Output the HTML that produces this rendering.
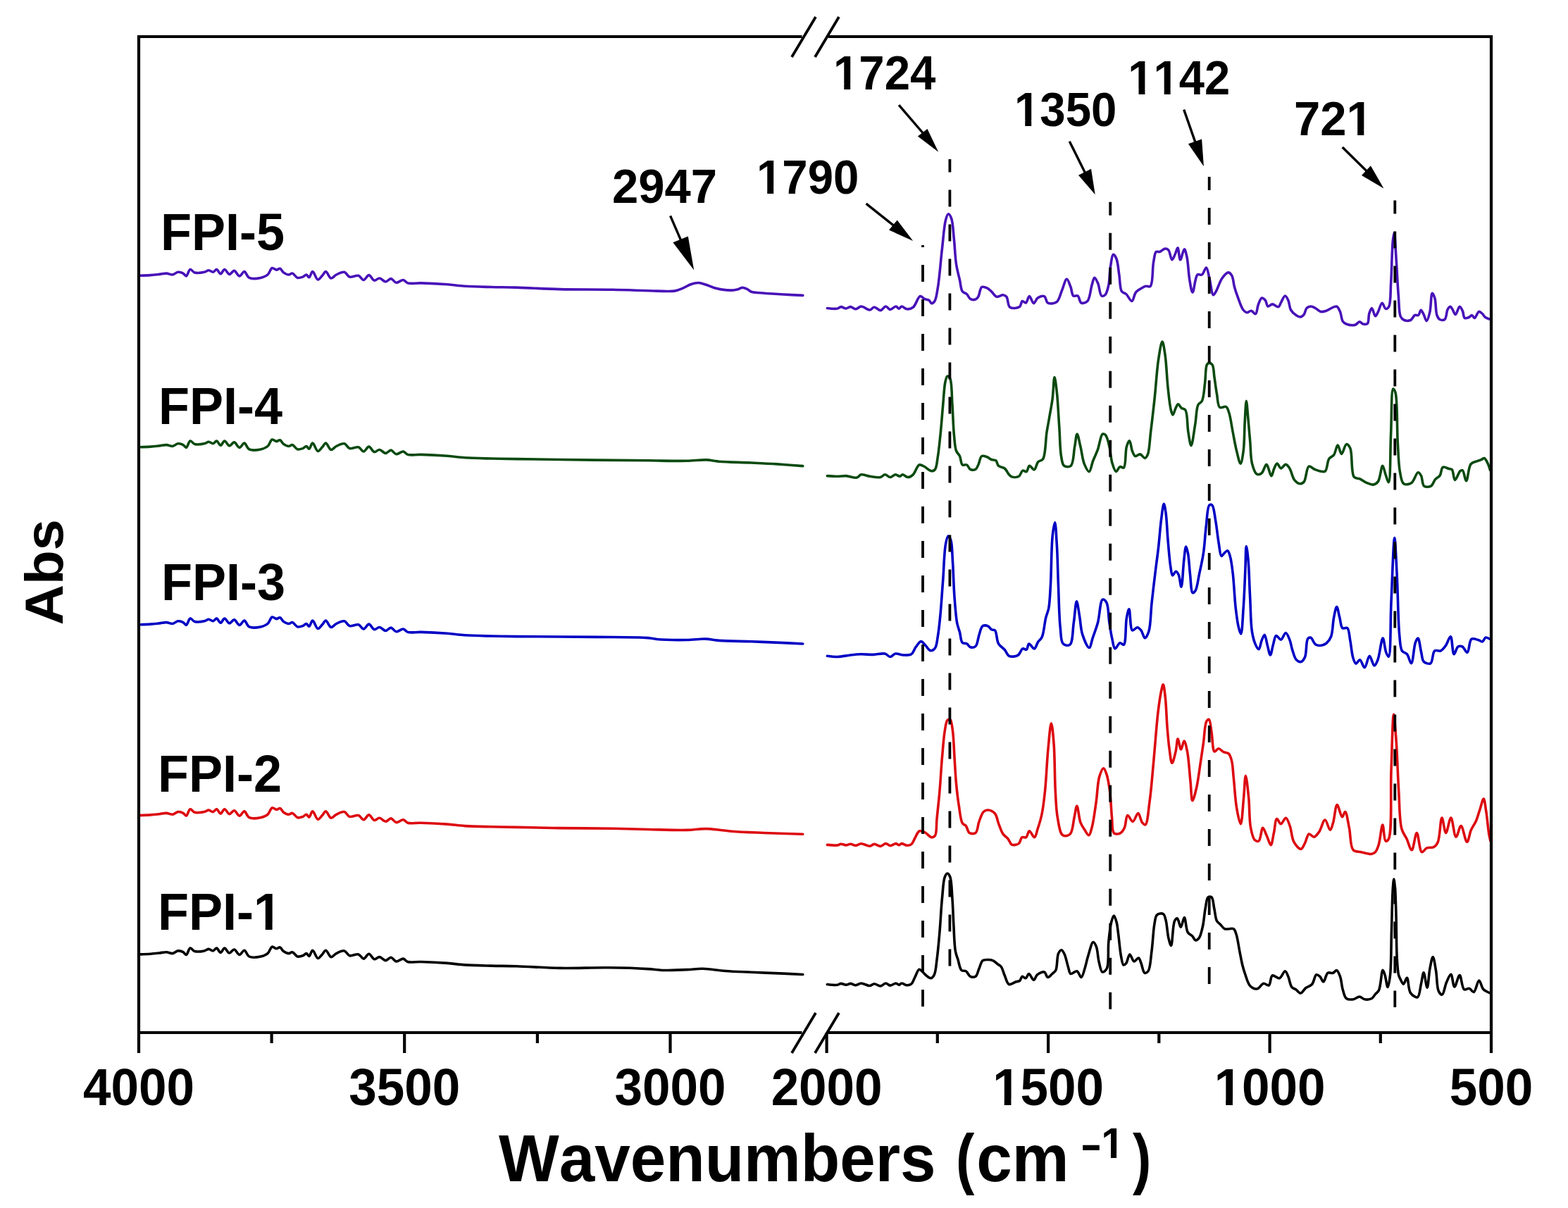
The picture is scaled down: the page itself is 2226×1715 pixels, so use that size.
<!DOCTYPE html><html><head><meta charset="utf-8"><title>FTIR spectra of FPI-1 to FPI-5</title><style>html,body{margin:0;padding:0;background:#fff;overflow:hidden;}svg{display:block;}text{font-family:"Liberation Sans", Arial, Helvetica, sans-serif;font-weight:bold;fill:#000;font-kerning:none;}</style></head><body>
<svg xmlns="http://www.w3.org/2000/svg" width="2226" height="1715" viewBox="0 0 2226 1715">
<rect width="2226" height="1715" fill="#fff"/>
<path d="M197.0 391.3 C197.0 391.3 197.9 391.3 198.8 391.3 C201.4 391.2 209.0 390.9 213.8 390.6 C218.2 390.3 222.4 389.8 226.3 389.4 C229.8 389.0 233.1 388.0 236.3 388.1 C239.3 388.2 242.3 390.3 245.0 390.0 C247.7 389.7 249.9 386.6 252.5 386.3 C255.0 386.0 257.9 387.0 260.0 388.1 C261.8 389.0 263.0 392.1 264.4 391.9 C266.4 391.6 267.8 383.0 270.0 382.5 C271.9 382.1 273.6 386.1 276.3 386.9 C279.9 387.9 286.4 387.1 290.0 386.3 C292.6 385.8 294.2 383.8 296.3 383.8 C298.4 383.8 300.6 386.6 302.5 386.3 C304.3 386.1 305.9 382.3 307.5 382.5 C309.4 382.7 311.2 388.8 313.1 388.8 C315.0 388.8 316.8 382.5 318.8 382.5 C320.9 382.5 323.2 389.2 325.6 389.4 C327.8 389.6 330.2 384.2 332.5 384.4 C335.0 384.6 337.5 391.8 340.0 391.9 C342.3 392.0 344.7 385.4 346.9 385.6 C349.3 385.8 350.5 392.8 353.8 394.4 C357.8 396.3 365.3 395.4 370.0 394.4 C373.8 393.6 377.3 392.3 380.0 390.0 C382.8 387.7 383.9 381.3 386.3 380.6 C388.2 380.0 390.5 383.1 392.5 383.1 C394.2 383.1 396.0 380.9 397.5 381.3 C399.3 381.8 400.5 385.5 402.5 386.9 C404.6 388.4 407.7 390.0 410.0 390.0 C411.8 390.0 413.3 387.8 415.0 388.1 C417.4 388.5 419.8 393.7 422.5 394.4 C424.9 395.0 427.8 393.9 430.0 393.1 C431.9 392.4 433.5 389.8 435.0 390.0 C436.4 390.2 437.5 394.0 438.8 393.8 C440.5 393.6 441.9 385.6 443.8 385.6 C446.0 385.6 448.7 396.6 451.3 396.9 C453.3 397.2 455.6 393.2 457.5 391.3 C459.3 389.5 460.7 385.6 462.5 385.6 C464.8 385.7 467.3 394.6 470.0 395.0 C472.3 395.4 474.6 391.4 477.5 390.0 C480.8 388.4 485.6 385.6 488.8 386.3 C491.8 386.9 493.2 392.2 496.3 393.1 C499.7 394.2 505.3 390.3 508.8 391.3 C511.8 392.2 513.8 397.6 516.3 397.5 C518.8 397.4 521.3 390.5 523.8 390.6 C526.3 390.7 528.6 397.6 531.3 398.1 C533.7 398.6 536.2 394.8 538.8 395.0 C541.6 395.2 544.7 400.0 547.5 400.0 C550.1 400.0 552.5 395.5 555.0 395.6 C557.6 395.8 559.7 400.9 562.5 401.3 C565.5 401.7 569.6 397.1 572.5 397.5 C574.9 397.8 576.0 401.0 578.8 401.9 C583.2 403.3 590.2 401.7 597.5 401.9 C607.8 402.2 623.8 403.0 635.0 403.8 C644.2 404.5 650.8 405.7 660.0 406.3 C671.2 407.0 685.2 407.2 697.5 407.5 C709.5 407.8 719.5 407.7 733.0 408.1 C750.8 408.6 773.3 410.1 795.0 410.6 C818.8 411.2 846.1 410.8 870.0 411.3 C891.8 411.7 916.4 412.9 932.5 413.1 C942.7 413.2 950.7 414.2 957.5 413.1 C962.5 412.3 966.1 410.4 970.0 408.8 C973.7 407.3 976.9 405.0 980.5 403.8 C984.1 402.6 987.8 401.4 991.5 401.5 C995.2 401.6 998.9 403.2 1002.5 404.3 C1006.2 405.5 1009.7 407.3 1013.5 408.4 C1017.4 409.5 1021.3 410.5 1025.4 411.1 C1029.8 411.8 1035.3 412.2 1039.1 412.1 C1041.9 412.0 1044.0 411.7 1046.4 411.1 C1048.9 410.5 1051.4 408.5 1053.8 408.4 C1056.0 408.3 1058.1 409.3 1060.2 410.2 C1062.4 411.2 1063.8 413.3 1066.6 414.3 C1071.0 415.8 1078.2 415.6 1084.9 416.2 C1093.1 416.9 1103.2 417.5 1112.4 418.0 C1121.5 418.5 1139.8 419.4 1139.8 419.4" fill="none" stroke="#4812b8" stroke-width="3.6" stroke-linejoin="round" stroke-linecap="round"/>
<path d="M1174.4 437.5 C1174.4 437.5 1185.3 438.8 1188.8 438.1 C1191.0 437.6 1192.0 435.7 1193.8 435.6 C1196.0 435.4 1198.7 438.0 1201.0 438.0 C1203.2 438.0 1205.3 435.5 1207.5 435.6 C1209.9 435.7 1212.5 438.9 1215.0 438.8 C1217.5 438.7 1219.7 435.1 1222.5 435.0 C1226.1 434.8 1231.7 440.3 1235.0 440.0 C1237.4 439.7 1238.8 436.1 1241.0 436.0 C1243.7 435.8 1247.2 440.8 1250.0 440.6 C1252.7 440.4 1255.1 435.0 1257.5 435.0 C1259.7 435.0 1261.5 439.3 1263.8 439.4 C1266.3 439.5 1269.6 434.9 1271.9 435.0 C1273.6 435.1 1274.9 438.2 1276.3 438.1 C1277.6 438.0 1278.5 435.2 1280.0 435.0 C1282.0 434.8 1284.8 438.5 1287.5 438.8 C1290.3 439.1 1293.6 438.3 1296.3 436.3 C1300.1 433.4 1303.0 421.4 1306.3 420.6 C1308.4 420.1 1310.4 423.4 1312.5 424.4 C1314.5 425.3 1317.1 425.2 1318.8 426.3 C1320.4 427.3 1321.1 430.4 1322.5 430.6 C1323.8 430.8 1325.7 429.3 1326.9 427.5 C1329.2 424.1 1329.9 416.8 1331.3 408.8 C1333.7 395.1 1335.5 369.7 1337.5 352.5 C1339.2 338.0 1340.2 320.9 1342.5 312.5 C1343.6 308.4 1344.9 303.9 1346.3 303.8 C1347.6 303.7 1349.4 307.0 1350.6 310.0 C1352.9 316.1 1353.3 329.6 1354.4 340.0 C1355.6 351.2 1355.9 364.7 1357.5 375.0 C1358.8 383.4 1360.9 390.6 1362.5 397.5 C1363.8 403.4 1363.9 410.5 1366.3 413.8 C1367.9 416.0 1370.7 415.8 1372.5 417.5 C1374.5 419.3 1375.3 423.2 1377.5 424.4 C1379.5 425.6 1383.0 425.7 1385.0 425.0 C1386.6 424.4 1387.6 423.1 1388.8 421.3 C1390.7 418.3 1391.1 409.1 1393.8 407.5 C1395.8 406.4 1399.0 407.8 1401.3 408.8 C1403.6 409.8 1405.4 411.9 1407.5 413.8 C1409.9 416.0 1412.2 420.6 1415.0 421.3 C1417.6 422.0 1421.3 418.6 1423.8 418.8 C1425.7 419.0 1427.4 419.7 1428.8 421.3 C1431.2 424.0 1430.5 434.0 1433.8 436.3 C1436.9 438.4 1444.6 437.6 1447.5 435.6 C1449.8 434.0 1449.6 428.1 1451.3 427.5 C1452.7 427.0 1454.8 430.5 1456.3 430.0 C1458.3 429.4 1459.5 420.7 1461.3 420.6 C1463.2 420.5 1465.4 430.5 1467.5 430.6 C1469.4 430.7 1470.6 424.8 1473.1 423.1 C1475.6 421.4 1480.1 419.6 1482.5 420.6 C1485.0 421.7 1484.8 428.5 1487.5 430.0 C1490.4 431.6 1496.8 431.1 1500.0 428.8 C1503.9 426.1 1505.1 417.9 1507.5 412.5 C1509.9 407.1 1512.1 396.4 1514.4 396.3 C1516.3 396.2 1518.4 403.6 1520.0 407.5 C1521.6 411.5 1521.5 418.3 1523.8 420.0 C1525.4 421.2 1528.3 418.9 1530.0 420.0 C1532.3 421.4 1532.5 428.9 1535.0 430.0 C1537.3 431.0 1541.5 429.8 1543.8 427.5 C1547.5 423.8 1548.1 411.1 1550.0 405.0 C1551.3 400.8 1552.2 394.6 1553.8 394.4 C1555.2 394.3 1557.3 399.2 1558.8 402.5 C1560.8 407.1 1561.2 418.5 1563.8 420.0 C1565.2 420.8 1567.4 420.1 1568.8 418.8 C1571.2 416.7 1572.6 410.4 1573.8 405.0 C1575.4 398.0 1575.0 387.7 1576.3 380.0 C1577.4 373.3 1578.6 361.7 1580.6 361.3 C1581.8 361.1 1583.8 364.6 1585.0 367.5 C1587.1 372.5 1587.6 382.4 1588.8 390.0 C1590.1 397.8 1589.6 409.5 1592.5 413.8 C1594.1 416.1 1596.7 415.7 1598.8 417.5 C1601.5 419.9 1604.6 427.8 1606.9 427.5 C1609.2 427.2 1609.9 418.2 1612.5 415.0 C1614.8 412.2 1618.7 410.3 1621.3 408.8 C1623.2 407.7 1624.4 406.7 1626.3 406.3 C1628.3 405.8 1631.3 407.9 1633.1 406.3 C1637.1 402.8 1635.8 381.5 1637.5 372.5 C1638.7 366.5 1639.0 359.3 1641.3 357.5 C1642.6 356.5 1644.5 358.0 1646.3 357.5 C1648.6 356.9 1651.5 353.3 1653.8 353.1 C1655.6 352.9 1657.4 353.6 1658.8 355.0 C1661.1 357.4 1662.0 368.6 1663.8 368.8 C1665.2 368.9 1666.8 364.0 1668.1 361.3 C1669.5 358.4 1670.8 351.8 1671.9 351.9 C1673.4 352.0 1674.0 368.7 1675.6 368.8 C1677.2 368.9 1679.6 353.8 1681.3 353.8 C1682.7 353.8 1683.9 360.2 1685.0 365.0 C1686.8 372.9 1687.2 388.4 1688.8 397.5 C1690.0 404.3 1691.4 415.0 1693.1 415.0 C1695.1 415.0 1696.4 392.8 1700.0 390.0 C1701.8 388.6 1704.4 391.0 1706.3 390.0 C1708.8 388.6 1710.8 379.8 1712.5 380.0 C1714.5 380.3 1715.4 389.4 1716.9 395.0 C1718.7 402.0 1720.2 418.3 1722.5 418.8 C1723.7 419.0 1724.9 416.1 1726.3 413.8 C1728.8 409.6 1731.6 399.7 1735.0 395.0 C1737.6 391.4 1741.3 386.9 1743.8 386.9 C1745.7 386.9 1747.5 389.1 1748.8 391.3 C1750.9 394.8 1751.0 402.2 1752.5 407.5 C1753.9 412.6 1755.5 417.3 1757.5 422.5 C1759.6 428.2 1762.2 436.5 1765.0 440.0 C1766.6 442.0 1768.2 443.5 1770.0 443.8 C1771.9 444.1 1774.3 441.1 1776.3 441.3 C1778.4 441.5 1780.9 446.2 1782.5 445.6 C1784.6 444.8 1784.7 436.4 1786.3 432.5 C1787.7 429.0 1789.3 423.6 1791.3 423.1 C1792.8 422.7 1794.9 424.7 1796.3 426.3 C1798.0 428.3 1798.1 434.3 1800.0 435.0 C1801.6 435.6 1804.0 432.0 1806.3 431.9 C1809.0 431.8 1812.9 436.3 1815.0 435.6 C1816.9 434.9 1817.4 431.2 1818.8 428.8 C1820.5 426.0 1822.6 420.0 1824.4 420.0 C1825.9 420.0 1827.6 423.7 1828.8 426.3 C1830.5 429.9 1830.4 436.3 1832.5 440.0 C1834.3 443.2 1837.4 445.8 1840.0 447.5 C1842.1 448.9 1844.4 450.2 1846.3 450.0 C1848.1 449.8 1849.9 448.0 1851.3 446.3 C1853.0 444.1 1853.1 439.4 1855.0 437.5 C1856.6 435.9 1859.2 435.0 1861.3 435.0 C1863.4 435.0 1865.4 436.4 1867.5 437.5 C1869.9 438.8 1872.4 441.9 1875.0 442.5 C1877.4 443.0 1880.3 442.0 1882.5 441.3 C1884.4 440.7 1885.5 439.7 1887.5 438.8 C1890.2 437.6 1895.0 434.2 1897.5 435.0 C1899.8 435.7 1901.1 439.5 1902.5 442.5 C1904.2 446.3 1904.3 453.3 1906.3 456.3 C1907.6 458.2 1909.1 459.2 1911.3 460.0 C1914.4 461.2 1920.5 462.2 1923.8 461.3 C1926.4 460.6 1928.0 457.0 1930.0 456.9 C1931.7 456.8 1933.2 459.6 1935.0 460.0 C1936.9 460.4 1939.8 460.8 1941.3 459.4 C1943.6 457.3 1942.5 448.9 1943.8 445.0 C1944.8 442.0 1946.2 437.5 1947.5 437.5 C1949.1 437.5 1950.8 448.7 1952.5 448.8 C1953.7 448.9 1954.8 445.7 1956.1 443.4 C1958.0 440.0 1960.1 430.4 1962.1 430.3 C1963.8 430.2 1965.3 438.0 1967.2 438.4 C1968.6 438.7 1970.5 437.4 1971.7 435.4 C1974.7 430.3 1973.8 414.0 1974.7 401.0 C1975.8 384.1 1976.0 354.6 1977.3 342.4 C1977.9 336.8 1978.7 330.3 1979.3 330.3 C1980.4 330.4 1981.3 356.5 1982.3 370.7 C1983.4 386.6 1984.2 406.8 1985.4 421.2 C1986.3 432.0 1985.8 444.1 1988.4 449.5 C1989.7 452.2 1991.3 453.6 1993.4 454.5 C1995.8 455.5 2000.0 455.6 2002.5 454.5 C2005.1 453.3 2006.4 448.5 2008.6 447.5 C2010.2 446.8 2012.2 448.3 2013.6 447.5 C2015.3 446.5 2015.9 440.5 2017.2 440.4 C2018.3 440.3 2019.5 443.5 2020.7 445.5 C2022.3 448.2 2023.8 455.7 2025.3 455.6 C2026.9 455.5 2028.6 448.4 2029.8 443.4 C2031.6 436.2 2031.4 416.5 2033.3 416.2 C2034.3 416.0 2035.9 420.0 2036.9 423.2 C2038.6 428.8 2038.0 442.3 2039.9 447.5 C2041.0 450.3 2042.0 452.5 2043.9 453.5 C2045.7 454.5 2049.2 454.8 2051.0 453.5 C2053.6 451.6 2053.3 442.5 2055.1 439.4 C2056.2 437.5 2057.9 435.3 2059.1 435.4 C2060.2 435.5 2061.1 437.8 2062.1 439.4 C2063.4 441.4 2064.7 446.5 2066.2 446.5 C2068.0 446.5 2070.3 435.5 2072.2 435.4 C2073.6 435.3 2075.2 439.0 2076.3 441.4 C2077.7 444.2 2077.4 450.3 2079.3 451.5 C2080.8 452.4 2083.7 451.2 2085.4 450.5 C2087.0 449.8 2088.1 447.4 2089.4 447.5 C2090.8 447.6 2092.0 451.6 2093.4 451.5 C2095.3 451.3 2097.3 442.9 2099.5 442.4 C2101.1 442.1 2103.0 444.2 2104.5 445.5 C2106.1 446.9 2106.9 449.2 2108.6 450.5 C2110.5 451.9 2115.7 453.5 2115.7 453.5" fill="none" stroke="#4812b8" stroke-width="3.6" stroke-linejoin="round" stroke-linecap="round"/>
<path d="M197.0 634.8 C197.0 634.8 197.9 634.8 198.8 634.8 C201.4 634.7 209.0 634.4 213.8 634.1 C218.2 633.8 222.4 633.3 226.3 632.9 C229.8 632.5 233.1 631.5 236.3 631.6 C239.3 631.7 242.3 633.8 245.0 633.5 C247.7 633.2 249.9 630.1 252.5 629.8 C255.0 629.5 257.9 630.5 260.0 631.6 C261.8 632.5 263.0 635.6 264.4 635.4 C266.4 635.1 267.8 626.5 270.0 626.0 C271.9 625.6 273.6 629.6 276.3 630.4 C279.9 631.4 286.4 630.6 290.0 629.8 C292.6 629.3 294.2 627.3 296.3 627.3 C298.4 627.3 300.6 630.1 302.5 629.8 C304.3 629.6 305.9 625.8 307.5 626.0 C309.4 626.2 311.2 632.3 313.1 632.3 C315.0 632.3 316.8 626.0 318.8 626.0 C320.9 626.0 323.2 632.7 325.6 632.9 C327.8 633.1 330.2 627.7 332.5 627.9 C335.0 628.1 337.5 635.3 340.0 635.4 C342.3 635.5 344.7 628.9 346.9 629.1 C349.3 629.3 350.5 636.3 353.8 637.9 C357.8 639.8 365.3 638.9 370.0 637.9 C373.8 637.1 377.3 635.8 380.0 633.5 C382.8 631.2 383.9 624.8 386.3 624.1 C388.2 623.5 390.5 626.6 392.5 626.6 C394.2 626.6 396.0 624.4 397.5 624.8 C399.3 625.3 400.5 629.0 402.5 630.4 C404.6 631.9 407.7 633.5 410.0 633.5 C411.8 633.5 413.3 631.3 415.0 631.6 C417.4 632.0 419.8 637.2 422.5 637.9 C424.9 638.5 427.8 637.4 430.0 636.6 C431.9 635.9 433.5 633.3 435.0 633.5 C436.4 633.7 437.5 637.5 438.8 637.3 C440.5 637.1 441.9 629.1 443.8 629.1 C446.0 629.1 448.7 640.1 451.3 640.4 C453.3 640.7 455.6 636.7 457.5 634.8 C459.3 633.0 460.7 629.1 462.5 629.1 C464.8 629.2 467.3 638.1 470.0 638.5 C472.3 638.9 474.6 634.9 477.5 633.5 C480.8 631.9 485.6 629.1 488.8 629.8 C491.8 630.4 493.2 635.7 496.3 636.6 C499.7 637.7 505.3 633.8 508.8 634.8 C511.8 635.7 513.8 641.1 516.3 641.0 C518.8 640.9 521.3 634.0 523.8 634.1 C526.3 634.2 528.6 641.1 531.3 641.6 C533.7 642.1 536.2 638.3 538.8 638.5 C541.6 638.7 544.7 643.5 547.5 643.5 C550.1 643.5 552.5 639.0 555.0 639.1 C557.6 639.3 559.7 644.4 562.5 644.8 C565.5 645.2 569.6 640.6 572.5 641.0 C574.9 641.3 576.0 644.5 578.8 645.4 C583.2 646.8 590.2 645.2 597.5 645.4 C607.8 645.7 623.8 646.5 635.0 647.3 C644.2 648.0 650.8 649.2 660.0 649.8 C671.2 650.5 685.2 650.7 697.5 651.0 C709.5 651.3 717.9 651.4 733.0 651.6 C759.9 652.0 811.4 652.7 845.0 653.1 C872.5 653.4 896.9 653.6 920.0 653.8 C939.8 654.0 959.8 654.6 975.0 654.3 C985.7 654.1 994.3 652.6 1002.5 652.9 C1009.2 653.1 1013.3 654.6 1020.8 655.2 C1032.6 656.2 1052.2 656.3 1066.6 657.0 C1079.5 657.6 1091.0 658.1 1103.2 658.9 C1115.4 659.7 1139.8 661.6 1139.8 661.6" fill="none" stroke="#0a4a10" stroke-width="3.6" stroke-linejoin="round" stroke-linecap="round"/>
<path d="M1174.4 675.6 C1174.4 675.6 1184.2 676.3 1188.8 676.3 C1193.1 676.3 1197.0 675.4 1201.3 675.6 C1206.1 675.9 1212.5 678.9 1216.3 678.1 C1219.0 677.5 1219.9 674.3 1222.5 673.8 C1225.8 673.1 1230.6 675.7 1235.0 676.3 C1239.8 677.0 1246.2 678.4 1250.0 677.5 C1252.7 676.9 1254.1 673.9 1256.3 673.8 C1258.7 673.7 1261.3 677.5 1263.8 677.5 C1266.3 677.5 1268.9 673.9 1271.3 673.8 C1273.4 673.7 1275.7 676.5 1277.5 676.3 C1279.0 676.2 1279.8 673.9 1281.3 673.8 C1283.3 673.7 1286.3 677.5 1288.8 677.5 C1291.3 677.5 1294.0 675.9 1296.3 673.8 C1299.5 670.9 1301.7 661.2 1305.0 660.0 C1307.3 659.2 1310.3 661.4 1312.5 662.5 C1314.4 663.5 1315.8 665.2 1317.5 666.3 C1319.1 667.3 1320.8 668.8 1322.5 668.8 C1324.2 668.8 1326.2 668.0 1327.5 666.3 C1329.9 663.3 1330.2 655.5 1331.3 648.8 C1332.8 639.9 1333.8 628.8 1335.0 617.5 C1336.4 604.2 1337.6 587.2 1338.8 573.8 C1339.9 562.5 1340.3 549.6 1341.9 542.5 C1342.8 538.7 1343.6 534.3 1345.0 534.0 C1346.1 533.7 1347.8 535.4 1348.8 537.5 C1351.5 543.1 1351.0 561.1 1351.9 573.8 C1352.9 587.7 1353.2 605.3 1354.4 617.5 C1355.3 626.3 1355.5 634.7 1357.5 640.0 C1358.8 643.4 1361.1 644.6 1362.5 647.5 C1364.2 651.0 1364.0 658.3 1366.3 660.0 C1367.9 661.2 1370.7 659.1 1372.5 660.0 C1374.5 661.0 1375.4 665.3 1377.5 666.3 C1379.6 667.3 1383.1 667.4 1385.0 666.3 C1386.9 665.2 1387.5 662.5 1388.8 660.0 C1390.5 656.6 1391.2 649.0 1393.8 647.5 C1395.8 646.4 1399.0 647.9 1401.3 648.8 C1403.5 649.6 1405.4 651.7 1407.5 652.5 C1409.5 653.3 1412.2 652.5 1413.8 653.8 C1415.7 655.2 1415.5 659.5 1417.5 661.3 C1419.6 663.3 1423.8 663.0 1426.3 665.0 C1428.9 667.1 1430.5 671.7 1432.5 673.8 C1433.8 675.2 1434.6 676.3 1436.3 676.9 C1438.8 677.7 1443.8 677.8 1446.4 676.3 C1449.0 674.8 1449.7 668.9 1451.9 668.1 C1453.5 667.5 1455.8 670.2 1457.3 669.5 C1459.2 668.6 1459.5 661.7 1461.4 661.3 C1463.2 660.9 1466.4 667.2 1468.3 666.8 C1470.6 666.3 1471.3 658.4 1473.7 655.8 C1475.6 653.7 1478.8 654.5 1480.6 651.7 C1484.6 645.7 1484.2 624.6 1486.0 613.5 C1487.4 604.8 1488.8 598.1 1490.1 590.3 C1491.5 582.2 1493.1 574.3 1494.2 565.7 C1495.4 556.2 1495.9 535.6 1497.0 535.6 C1498.0 535.6 1499.4 548.7 1500.4 557.5 C1501.9 570.6 1502.7 591.0 1503.8 606.6 C1504.8 620.9 1504.7 637.7 1506.5 647.6 C1507.6 653.5 1507.8 659.2 1510.6 661.3 C1512.9 663.0 1517.8 663.3 1520.2 661.3 C1524.3 657.9 1524.1 642.1 1525.7 634.0 C1527.0 627.4 1527.7 616.3 1529.1 616.2 C1530.5 616.1 1532.3 627.6 1533.9 634.0 C1535.7 641.5 1536.7 652.2 1539.3 658.6 C1541.2 663.2 1544.2 669.7 1546.2 669.5 C1548.4 669.3 1549.6 659.6 1551.6 654.5 C1553.7 649.1 1556.3 644.0 1558.5 638.1 C1560.9 631.4 1562.4 617.7 1565.3 616.2 C1566.6 615.6 1568.2 616.4 1569.4 617.6 C1571.8 620.0 1573.4 628.0 1574.9 634.0 C1576.7 641.0 1576.9 650.8 1578.9 657.2 C1580.4 662.1 1582.3 669.2 1584.4 669.5 C1586.1 669.7 1587.8 663.4 1589.9 662.7 C1591.5 662.1 1593.9 665.0 1595.3 664.0 C1598.7 661.7 1597.3 640.8 1599.4 634.0 C1600.5 630.3 1602.3 625.7 1603.5 625.8 C1605.1 626.0 1605.9 636.9 1607.6 640.8 C1608.8 643.6 1609.8 647.0 1611.7 647.6 C1613.5 648.2 1616.4 644.6 1618.6 644.9 C1621.0 645.3 1623.5 650.6 1625.4 650.4 C1627.1 650.2 1628.4 647.7 1629.5 644.9 C1631.9 638.9 1632.2 625.1 1633.6 613.5 C1635.4 599.2 1637.3 582.2 1639.1 565.7 C1641.0 548.1 1642.2 525.8 1644.5 511.0 C1646.1 500.7 1648.3 485.0 1650.0 485.0 C1651.5 485.0 1652.9 496.3 1654.1 504.2 C1655.9 516.5 1656.6 537.9 1658.2 552.0 C1659.4 563.2 1660.6 575.6 1662.3 582.0 C1663.1 585.2 1664.0 588.9 1665.0 588.9 C1666.2 588.9 1667.7 582.0 1669.1 579.3 C1670.2 577.2 1671.2 574.0 1672.5 573.9 C1673.9 573.8 1675.5 577.9 1677.3 579.3 C1679.0 580.6 1681.3 580.0 1682.8 582.0 C1686.1 586.6 1685.3 604.3 1686.9 613.5 C1688.1 620.7 1689.6 632.6 1691.0 632.6 C1692.8 632.6 1695.1 611.9 1696.8 602.0 C1698.4 592.7 1698.2 580.1 1700.9 574.7 C1702.3 571.9 1705.0 572.1 1706.4 569.3 C1709.0 564.3 1709.4 553.1 1710.5 544.7 C1711.7 536.0 1711.2 521.8 1713.3 517.8 C1714.1 516.3 1715.1 515.5 1716.2 515.4 C1717.6 515.2 1719.8 516.1 1721.0 517.8 C1723.3 520.9 1723.0 529.3 1724.0 535.7 C1725.2 543.0 1726.1 552.0 1727.5 559.4 C1728.7 566.1 1728.5 576.1 1731.7 578.4 C1733.9 580.0 1738.4 576.3 1740.6 577.5 C1742.8 578.7 1743.5 582.1 1744.7 585.7 C1746.9 592.0 1748.3 603.9 1750.1 613.0 C1751.9 622.1 1753.5 632.2 1755.6 640.3 C1757.3 646.9 1759.5 658.2 1761.1 658.1 C1762.7 658.0 1764.2 647.5 1765.2 640.3 C1766.7 629.5 1766.5 611.9 1767.2 599.3 C1767.8 588.5 1768.5 569.3 1769.3 569.3 C1770.1 569.3 1771.1 586.1 1772.0 595.2 C1772.9 605.2 1773.8 616.1 1774.7 626.6 C1775.6 637.1 1775.3 649.7 1777.5 658.1 C1779.1 664.2 1781.3 671.6 1784.3 673.1 C1786.3 674.1 1789.1 673.2 1791.1 671.7 C1793.9 669.6 1795.8 659.3 1798.0 659.4 C1800.4 659.5 1802.9 675.8 1804.8 675.8 C1806.4 675.8 1807.4 668.0 1808.9 664.9 C1810.2 662.3 1811.4 658.2 1813.0 658.1 C1814.6 658.0 1816.5 664.7 1818.5 664.9 C1820.5 665.1 1823.2 659.3 1825.3 659.4 C1827.3 659.5 1829.1 662.4 1830.8 664.9 C1833.4 668.7 1834.5 677.6 1837.6 681.3 C1839.9 684.1 1843.3 686.7 1845.8 686.8 C1847.8 686.9 1849.6 685.9 1851.2 684.0 C1854.3 680.3 1854.6 663.7 1858.1 662.2 C1860.3 661.3 1863.5 665.2 1866.3 666.3 C1869.0 667.4 1871.9 668.6 1874.5 669.0 C1876.8 669.4 1879.5 670.4 1881.3 669.0 C1884.3 666.8 1884.1 655.2 1886.8 651.2 C1888.7 648.5 1891.7 648.3 1893.6 645.8 C1896.1 642.5 1897.2 632.1 1899.1 632.1 C1900.9 632.1 1902.5 644.3 1904.5 644.4 C1906.6 644.5 1909.0 631.1 1911.4 630.7 C1913.1 630.4 1915.3 633.1 1916.8 636.2 C1920.3 643.3 1917.6 671.6 1922.3 677.2 C1924.4 679.8 1927.7 678.7 1930.5 679.9 C1933.6 681.3 1936.8 684.0 1940.1 685.4 C1943.2 686.7 1946.8 688.5 1949.6 688.1 C1952.2 687.7 1954.5 686.2 1956.4 683.6 C1959.6 679.2 1960.8 661.2 1962.8 661.2 C1964.3 661.2 1965.6 669.9 1967.1 674.0 C1968.5 677.7 1970.3 684.9 1971.4 684.7 C1974.2 684.2 1973.5 638.7 1974.6 616.3 C1975.7 594.6 1974.9 552.8 1977.8 552.1 C1978.7 551.9 1980.1 554.5 1981.0 557.4 C1984.0 567.3 1983.0 606.6 1984.2 627.0 C1985.2 643.0 1985.3 658.8 1987.4 669.7 C1988.8 676.8 1989.4 684.6 1992.8 686.8 C1995.4 688.5 2000.4 687.7 2003.5 685.8 C2007.5 683.4 2010.4 671.1 2013.1 670.8 C2014.7 670.6 2016.2 673.0 2017.4 675.1 C2019.4 678.4 2018.8 687.9 2021.7 690.1 C2024.0 691.8 2028.7 691.5 2031.3 690.1 C2034.2 688.6 2035.4 683.0 2037.7 680.4 C2039.7 678.2 2042.4 677.5 2044.1 675.1 C2046.2 672.1 2045.9 664.6 2048.4 663.3 C2050.5 662.2 2054.6 664.9 2057.0 665.5 C2058.6 665.9 2060.0 665.4 2061.2 666.5 C2063.4 668.6 2063.5 681.2 2065.5 681.5 C2067.5 681.7 2070.7 670.6 2073.0 668.7 C2074.1 667.8 2075.2 667.1 2076.2 667.6 C2078.4 668.6 2079.8 682.7 2081.6 682.6 C2083.8 682.5 2084.4 663.4 2088.0 659.0 C2090.3 656.3 2093.8 655.9 2096.5 654.8 C2098.8 653.9 2101.0 653.4 2102.9 652.6 C2104.5 651.9 2105.8 650.1 2107.2 650.5 C2109.2 651.1 2111.2 656.1 2112.6 659.0 C2113.9 661.8 2115.5 667.6 2115.5 667.6" fill="none" stroke="#0a4a10" stroke-width="3.6" stroke-linejoin="round" stroke-linecap="round"/>
<path d="M197.0 886.8 C197.0 886.8 197.9 886.8 198.8 886.8 C201.4 886.7 209.0 886.4 213.8 886.1 C218.2 885.8 222.4 885.3 226.3 884.9 C229.8 884.5 233.1 883.5 236.3 883.6 C239.3 883.7 242.3 885.8 245.0 885.5 C247.7 885.2 249.9 882.1 252.5 881.8 C255.0 881.5 257.9 882.5 260.0 883.6 C261.8 884.5 263.0 887.6 264.4 887.4 C266.4 887.1 267.8 878.5 270.0 878.0 C271.9 877.6 273.6 881.6 276.3 882.4 C279.9 883.4 286.4 882.6 290.0 881.8 C292.6 881.3 294.2 879.3 296.3 879.3 C298.4 879.3 300.6 882.1 302.5 881.8 C304.3 881.6 305.9 877.8 307.5 878.0 C309.4 878.2 311.2 884.3 313.1 884.3 C315.0 884.3 316.8 878.0 318.8 878.0 C320.9 878.0 323.2 884.7 325.6 884.9 C327.8 885.1 330.2 879.7 332.5 879.9 C335.0 880.1 337.5 887.3 340.0 887.4 C342.3 887.5 344.7 880.9 346.9 881.1 C349.3 881.3 350.5 888.3 353.8 889.9 C357.8 891.8 365.3 890.9 370.0 889.9 C373.8 889.1 377.3 887.8 380.0 885.5 C382.8 883.2 383.9 876.8 386.3 876.1 C388.2 875.5 390.5 878.6 392.5 878.6 C394.2 878.6 396.0 876.4 397.5 876.8 C399.3 877.3 400.5 881.0 402.5 882.4 C404.6 883.9 407.7 885.5 410.0 885.5 C411.8 885.5 413.3 883.3 415.0 883.6 C417.4 884.0 419.8 889.2 422.5 889.9 C424.9 890.5 427.8 889.4 430.0 888.6 C431.9 887.9 433.5 885.3 435.0 885.5 C436.4 885.7 437.5 889.5 438.8 889.3 C440.5 889.1 441.9 881.1 443.8 881.1 C446.0 881.1 448.7 892.1 451.3 892.4 C453.3 892.7 455.6 888.7 457.5 886.8 C459.3 885.0 460.7 881.1 462.5 881.1 C464.8 881.2 467.3 890.1 470.0 890.5 C472.3 890.9 474.6 886.9 477.5 885.5 C480.8 883.9 485.6 881.1 488.8 881.8 C491.8 882.4 493.2 887.7 496.3 888.6 C499.7 889.7 505.3 885.8 508.8 886.8 C511.8 887.7 513.8 893.1 516.3 893.0 C518.8 892.9 521.3 886.0 523.8 886.1 C526.3 886.2 528.6 893.1 531.3 893.6 C533.7 894.1 536.2 890.3 538.8 890.5 C541.6 890.7 544.7 895.5 547.5 895.5 C550.1 895.5 552.5 891.0 555.0 891.1 C557.6 891.3 559.7 896.4 562.5 896.8 C565.5 897.2 569.6 892.6 572.5 893.0 C574.9 893.3 576.0 896.5 578.8 897.4 C583.2 898.8 590.2 897.2 597.5 897.4 C607.8 897.7 623.8 898.5 635.0 899.3 C644.2 900.0 650.8 901.2 660.0 901.8 C671.2 902.5 685.2 902.7 697.5 903.0 C709.5 903.3 717.9 903.4 733.0 903.6 C759.9 903.9 811.4 904.0 845.0 904.4 C872.5 904.7 905.5 904.4 920.0 905.6 C925.9 906.1 927.1 907.0 932.5 907.5 C942.4 908.4 962.4 908.7 975.0 908.5 C985.0 908.4 993.8 906.8 1002.0 907.1 C1008.8 907.3 1013.1 908.8 1020.8 909.4 C1032.7 910.3 1051.3 910.3 1066.6 910.8 C1081.9 911.3 1099.1 912.0 1112.4 912.6 C1122.7 913.1 1139.8 914.0 1139.8 914.0" fill="none" stroke="#0000c4" stroke-width="3.6" stroke-linejoin="round" stroke-linecap="round"/>
<path d="M1174.4 931.3 C1174.4 931.3 1183.7 932.6 1188.8 932.5 C1194.6 932.4 1201.6 930.6 1207.5 930.0 C1212.8 929.4 1217.3 928.9 1222.5 928.8 C1228.1 928.7 1234.3 929.5 1240.0 929.4 C1245.5 929.3 1252.0 927.1 1256.3 928.1 C1259.4 928.8 1261.3 932.5 1263.8 932.5 C1266.3 932.5 1268.4 928.6 1271.3 928.1 C1274.6 927.5 1278.8 929.9 1282.5 930.0 C1286.3 930.1 1290.9 930.6 1293.8 928.8 C1296.8 926.9 1297.7 921.9 1300.0 918.8 C1302.3 915.8 1305.1 910.7 1307.5 910.6 C1309.6 910.5 1311.6 914.2 1313.8 916.3 C1316.2 918.6 1318.8 923.5 1321.3 923.8 C1323.4 924.0 1325.9 922.2 1327.5 920.0 C1329.9 916.7 1330.2 910.1 1331.3 903.8 C1332.8 895.1 1333.9 884.2 1335.0 872.5 C1336.4 857.8 1337.5 839.2 1338.8 822.5 C1340.0 805.8 1340.4 783.2 1342.5 772.5 C1343.5 767.2 1344.9 761.1 1346.3 761.0 C1347.4 760.9 1349.0 764.4 1350.0 767.5 C1351.9 773.7 1351.7 786.2 1352.5 797.5 C1353.5 812.0 1353.8 832.0 1355.0 847.5 C1356.0 860.9 1357.0 875.9 1358.8 885.0 C1359.9 890.3 1361.3 893.1 1362.5 897.5 C1363.8 902.3 1363.8 910.1 1366.3 912.5 C1367.9 914.0 1370.7 912.8 1372.5 913.8 C1374.4 914.8 1375.5 918.2 1377.5 918.8 C1379.6 919.5 1383.1 919.2 1385.0 917.5 C1387.9 914.9 1388.2 906.3 1390.0 901.3 C1391.6 896.8 1392.4 890.6 1395.0 888.8 C1397.0 887.5 1400.4 887.9 1402.5 888.8 C1404.5 889.6 1405.7 892.8 1407.5 893.8 C1409.1 894.7 1411.1 893.6 1412.5 895.0 C1415.2 897.6 1414.7 909.0 1417.5 913.8 C1419.7 917.6 1423.7 919.5 1426.3 922.5 C1428.7 925.3 1429.6 929.9 1432.5 931.3 C1435.7 932.8 1441.7 932.2 1445.0 930.4 C1448.2 928.6 1449.4 921.8 1451.9 920.9 C1453.6 920.3 1455.9 922.9 1457.3 922.2 C1459.1 921.3 1459.0 914.4 1460.7 914.0 C1462.6 913.6 1466.2 921.2 1468.3 920.9 C1470.5 920.5 1471.8 914.2 1473.7 911.3 C1475.4 908.8 1477.7 907.8 1479.2 904.5 C1482.0 898.6 1482.8 884.6 1484.7 877.1 C1486.0 871.7 1487.7 869.1 1488.8 863.5 C1490.4 854.7 1490.7 842.7 1491.5 829.3 C1492.6 810.4 1492.5 776.7 1494.2 761.0 C1495.1 752.6 1496.6 741.9 1497.6 741.9 C1498.8 742.0 1499.6 762.4 1500.4 774.7 C1501.4 790.6 1501.6 810.6 1502.4 829.3 C1503.2 849.2 1503.5 875.2 1505.2 890.8 C1506.3 900.4 1505.7 910.5 1509.3 914.0 C1511.6 916.2 1516.4 917.1 1518.8 915.4 C1523.2 912.2 1522.7 894.4 1524.3 884.0 C1525.9 873.9 1526.9 853.9 1528.4 853.9 C1529.7 853.9 1531.2 867.1 1532.5 874.4 C1534.0 882.5 1534.1 892.6 1536.6 900.4 C1538.9 907.5 1543.6 919.7 1546.2 919.5 C1548.4 919.4 1549.7 909.9 1551.6 904.5 C1553.8 898.2 1556.4 891.7 1558.5 884.0 C1561.1 874.4 1561.8 852.5 1565.3 851.2 C1566.9 850.6 1569.3 852.9 1570.8 855.3 C1573.8 860.3 1573.5 875.0 1574.9 884.0 C1576.2 892.2 1577.3 900.5 1578.9 907.2 C1580.1 912.4 1580.9 920.5 1583.0 920.9 C1584.8 921.3 1587.5 913.2 1589.9 912.7 C1591.7 912.3 1593.9 916.2 1595.3 915.4 C1598.9 913.4 1597.6 886.3 1599.4 877.1 C1600.4 871.8 1601.8 864.7 1602.9 864.8 C1604.6 864.9 1604.1 893.3 1607.6 894.9 C1609.4 895.7 1612.4 890.7 1614.5 890.8 C1616.5 890.9 1618.3 893.0 1619.9 894.9 C1622.1 897.5 1623.5 905.7 1625.4 905.8 C1627.2 905.9 1629.5 900.8 1630.9 896.3 C1633.7 887.8 1633.5 870.1 1635.0 856.6 C1636.5 842.7 1638.2 827.9 1639.9 814.1 C1641.5 801.0 1643.3 788.7 1644.7 776.0 C1646.1 763.3 1647.0 749.0 1648.5 738.0 C1649.6 729.4 1651.1 715.2 1652.3 715.2 C1653.2 715.2 1654.3 722.9 1655.1 728.5 C1656.4 737.9 1656.9 753.8 1658.0 766.5 C1659.1 779.2 1660.3 795.4 1661.8 804.6 C1662.7 809.9 1663.0 816.5 1664.6 816.9 C1665.8 817.2 1667.9 811.2 1669.4 811.2 C1670.8 811.2 1672.1 813.7 1673.2 816.0 C1675.0 819.8 1675.9 833.2 1677.0 833.1 C1678.6 833.0 1679.5 805.6 1680.8 795.1 C1681.7 787.6 1682.5 776.1 1683.7 776.0 C1684.5 775.9 1685.7 781.5 1686.5 785.6 C1687.9 792.5 1688.3 804.7 1689.4 814.1 C1690.5 823.4 1690.7 840.5 1693.2 841.6 C1694.2 842.0 1695.9 840.5 1697.0 838.8 C1699.6 834.8 1700.9 822.6 1702.7 814.1 C1704.7 805.0 1706.9 795.8 1708.4 785.6 C1710.2 773.9 1710.7 759.5 1712.2 747.5 C1713.6 736.8 1713.8 719.7 1716.9 717.1 C1718.0 716.2 1719.6 716.2 1720.7 717.1 C1723.3 719.2 1724.1 730.2 1725.5 738.0 C1727.3 747.8 1728.6 761.9 1730.2 771.3 C1731.4 778.3 1732.0 788.8 1734.0 789.4 C1735.1 789.7 1736.4 786.8 1737.8 785.6 C1739.3 784.3 1741.3 781.4 1742.6 781.7 C1744.3 782.1 1745.3 786.6 1746.4 790.3 C1748.1 796.2 1749.1 804.7 1750.2 814.1 C1751.8 827.5 1752.6 849.1 1754.2 863.0 C1755.4 873.4 1756.6 883.6 1758.3 890.3 C1759.3 894.4 1760.7 900.0 1761.7 899.9 C1763.5 899.7 1764.2 876.5 1765.2 863.0 C1766.4 846.6 1767.2 824.2 1767.9 808.3 C1768.5 796.0 1768.4 775.5 1769.3 775.5 C1770.0 775.5 1771.2 786.6 1772.0 794.7 C1773.3 808.2 1773.7 831.7 1774.7 849.3 C1775.6 865.8 1775.4 884.8 1777.5 897.1 C1778.8 905.0 1780.8 912.0 1782.9 916.3 C1784.1 918.8 1785.8 921.9 1787.0 921.7 C1788.7 921.4 1789.6 913.0 1791.1 909.4 C1792.4 906.3 1794.0 901.1 1795.2 901.2 C1796.8 901.4 1797.9 911.4 1799.3 916.3 C1800.6 921.0 1802.1 929.9 1803.4 929.9 C1804.8 929.9 1806.1 919.6 1807.5 914.9 C1808.8 910.6 1809.5 903.2 1811.6 902.6 C1813.4 902.1 1816.4 908.4 1818.5 908.1 C1821.0 907.7 1823.2 898.4 1825.3 898.5 C1827.3 898.6 1829.3 904.4 1830.8 908.1 C1832.6 912.4 1833.2 918.3 1834.8 923.1 C1836.4 927.8 1837.7 934.2 1840.3 936.8 C1842.2 938.7 1845.1 940.0 1847.1 939.5 C1849.3 938.9 1851.1 936.0 1852.6 932.7 C1855.1 927.0 1853.9 910.0 1856.7 906.7 C1857.8 905.4 1859.4 904.9 1860.8 905.3 C1863.1 906.0 1864.8 913.1 1867.6 914.9 C1870.0 916.4 1873.2 916.6 1875.8 916.3 C1878.2 916.0 1880.6 915.1 1882.7 913.5 C1885.3 911.4 1887.8 908.3 1889.5 904.0 C1892.2 897.4 1892.0 884.3 1893.6 876.6 C1894.8 870.8 1896.3 861.6 1897.7 861.6 C1899.1 861.6 1900.4 871.6 1901.8 876.6 C1903.2 881.6 1903.3 889.7 1905.9 891.7 C1907.6 893.0 1911.0 890.3 1912.7 891.7 C1915.5 893.9 1915.5 903.0 1916.8 909.4 C1918.3 916.9 1919.0 928.1 1920.9 934.0 C1922.1 937.6 1923.3 941.9 1925.0 942.2 C1926.6 942.5 1928.7 936.6 1930.5 936.8 C1932.8 937.1 1935.2 947.9 1937.3 947.7 C1939.8 947.5 1941.8 931.4 1944.2 931.3 C1946.4 931.2 1948.8 944.9 1951.0 945.0 C1952.7 945.1 1954.4 940.7 1955.9 937.0 C1958.7 930.2 1961.0 906.1 1963.1 906.1 C1964.8 906.1 1965.9 921.6 1967.8 926.3 C1968.9 929.0 1970.4 932.6 1971.4 932.3 C1974.7 931.5 1973.7 881.8 1975.0 855.0 C1976.4 825.8 1978.2 763.6 1979.7 763.6 C1980.9 763.6 1982.2 798.9 1983.3 819.4 C1984.6 844.4 1984.8 884.0 1986.8 902.6 C1987.8 912.1 1987.6 919.7 1990.4 924.0 C1992.1 926.7 1995.5 926.4 1997.5 928.7 C2000.1 931.8 2001.8 942.0 2003.5 941.8 C2006.0 941.5 2007.1 918.1 2009.4 912.1 C2010.5 909.2 2011.9 905.9 2013.0 906.1 C2014.9 906.4 2016.2 920.3 2017.7 926.3 C2018.9 931.2 2018.7 936.9 2021.3 939.4 C2023.5 941.5 2028.4 943.1 2030.8 941.8 C2034.2 940.0 2033.4 926.4 2036.7 924.0 C2038.9 922.4 2042.5 925.0 2045.0 924.0 C2047.7 922.9 2050.0 919.7 2052.2 916.8 C2054.9 913.3 2057.4 903.5 2059.3 903.8 C2061.7 904.2 2061.8 928.3 2064.1 928.7 C2065.7 929.0 2067.5 919.5 2070.0 918.0 C2071.7 917.0 2074.0 917.1 2075.9 918.0 C2078.5 919.2 2081.1 926.7 2083.1 926.3 C2085.8 925.7 2085.5 909.6 2089.0 907.3 C2091.4 905.7 2095.7 907.8 2098.5 908.5 C2100.8 909.1 2102.8 911.4 2104.5 910.9 C2106.4 910.4 2107.3 905.5 2109.2 905.0 C2110.9 904.5 2115.1 907.3 2115.1 907.3" fill="none" stroke="#0000c4" stroke-width="3.6" stroke-linejoin="round" stroke-linecap="round"/>
<path d="M197.0 1157.6 C197.0 1157.6 197.9 1157.6 198.8 1157.6 C201.4 1157.5 209.0 1157.2 213.8 1156.9 C218.2 1156.6 222.4 1156.1 226.3 1155.7 C229.8 1155.3 233.1 1154.3 236.3 1154.4 C239.3 1154.5 242.3 1156.6 245.0 1156.3 C247.7 1156.0 249.9 1152.9 252.5 1152.6 C255.0 1152.3 257.9 1153.3 260.0 1154.4 C261.8 1155.3 263.0 1158.4 264.4 1158.2 C266.4 1157.9 267.8 1149.3 270.0 1148.8 C271.9 1148.4 273.6 1152.4 276.3 1153.2 C279.9 1154.2 286.4 1153.4 290.0 1152.6 C292.6 1152.1 294.2 1150.1 296.3 1150.1 C298.4 1150.1 300.6 1152.9 302.5 1152.6 C304.3 1152.4 305.9 1148.6 307.5 1148.8 C309.4 1149.0 311.2 1155.1 313.1 1155.1 C315.0 1155.1 316.8 1148.8 318.8 1148.8 C320.9 1148.8 323.2 1155.5 325.6 1155.7 C327.8 1155.9 330.2 1150.5 332.5 1150.7 C335.0 1150.9 337.5 1158.1 340.0 1158.2 C342.3 1158.3 344.7 1151.7 346.9 1151.9 C349.3 1152.1 350.5 1159.1 353.8 1160.7 C357.8 1162.6 365.3 1161.7 370.0 1160.7 C373.8 1159.9 377.3 1158.6 380.0 1156.3 C382.8 1154.0 383.9 1147.6 386.3 1146.9 C388.2 1146.3 390.5 1149.4 392.5 1149.4 C394.2 1149.4 396.0 1147.2 397.5 1147.6 C399.3 1148.1 400.5 1151.8 402.5 1153.2 C404.6 1154.7 407.7 1156.3 410.0 1156.3 C411.8 1156.3 413.3 1154.1 415.0 1154.4 C417.4 1154.8 419.8 1160.0 422.5 1160.7 C424.9 1161.3 427.8 1160.2 430.0 1159.4 C431.9 1158.7 433.5 1156.1 435.0 1156.3 C436.4 1156.5 437.5 1160.3 438.8 1160.1 C440.5 1159.9 441.9 1151.9 443.8 1151.9 C446.0 1151.9 448.7 1162.9 451.3 1163.2 C453.3 1163.5 455.6 1159.5 457.5 1157.6 C459.3 1155.8 460.7 1151.9 462.5 1151.9 C464.8 1152.0 467.3 1160.9 470.0 1161.3 C472.3 1161.7 474.6 1157.7 477.5 1156.3 C480.8 1154.7 485.6 1151.9 488.8 1152.6 C491.8 1153.2 493.2 1158.5 496.3 1159.4 C499.7 1160.5 505.3 1156.6 508.8 1157.6 C511.8 1158.5 513.8 1163.9 516.3 1163.8 C518.8 1163.7 521.3 1156.8 523.8 1156.9 C526.3 1157.0 528.6 1163.9 531.3 1164.4 C533.7 1164.9 536.2 1161.1 538.8 1161.3 C541.6 1161.5 544.7 1166.3 547.5 1166.3 C550.1 1166.3 552.5 1161.8 555.0 1161.9 C557.6 1162.1 559.7 1167.2 562.5 1167.6 C565.5 1168.0 569.6 1163.4 572.5 1163.8 C574.9 1164.1 576.0 1167.3 578.8 1168.2 C583.2 1169.6 590.2 1168.0 597.5 1168.2 C607.8 1168.5 623.8 1169.3 635.0 1170.1 C644.2 1170.8 650.8 1172.0 660.0 1172.6 C671.2 1173.3 685.2 1173.5 697.5 1173.8 C709.5 1174.1 719.5 1174.2 733.0 1174.4 C750.8 1174.7 773.3 1175.3 795.0 1175.6 C818.8 1175.9 847.5 1175.9 870.0 1176.3 C888.4 1176.6 902.9 1177.2 920.0 1177.5 C937.9 1177.9 959.9 1178.8 975.0 1178.4 C985.6 1178.1 992.3 1176.5 1002.0 1176.6 C1013.4 1176.8 1026.0 1179.2 1039.0 1180.2 C1053.5 1181.3 1068.9 1181.8 1084.9 1182.5 C1102.4 1183.2 1139.8 1184.3 1139.8 1184.3" fill="none" stroke="#dc0a10" stroke-width="3.6" stroke-linejoin="round" stroke-linecap="round"/>
<path d="M1174.4 1199.4 C1174.4 1199.4 1185.3 1200.5 1188.8 1200.0 C1190.9 1199.7 1192.0 1198.3 1193.8 1198.2 C1196.0 1198.1 1198.7 1199.9 1201.0 1199.9 C1203.2 1199.9 1205.3 1198.2 1207.5 1198.2 C1209.9 1198.2 1212.5 1200.5 1215.0 1200.4 C1217.5 1200.3 1219.7 1197.9 1222.5 1197.8 C1226.1 1197.7 1231.6 1201.5 1235.0 1201.2 C1237.4 1201.0 1238.8 1198.5 1241.0 1198.4 C1243.7 1198.2 1247.2 1201.6 1250.0 1201.4 C1252.7 1201.2 1255.1 1197.6 1257.5 1197.6 C1259.7 1197.6 1261.5 1200.5 1263.8 1200.6 C1266.3 1200.7 1269.6 1197.5 1271.9 1197.6 C1273.6 1197.7 1274.9 1199.9 1276.3 1199.8 C1277.6 1199.8 1278.5 1197.8 1280.0 1197.6 C1282.0 1197.4 1285.1 1200.1 1287.5 1200.2 C1289.7 1200.3 1292.0 1199.9 1293.8 1198.6 C1296.0 1197.0 1297.0 1193.0 1298.8 1190.0 C1300.7 1186.8 1302.4 1181.2 1305.0 1180.0 C1307.1 1179.0 1310.0 1180.2 1312.5 1181.3 C1315.8 1182.7 1319.7 1188.5 1322.5 1188.8 C1324.4 1189.0 1326.2 1188.1 1327.5 1186.3 C1330.1 1182.6 1329.1 1171.3 1330.0 1162.5 C1331.1 1151.4 1332.6 1138.4 1333.8 1125.0 C1335.2 1109.5 1336.1 1090.5 1337.5 1075.0 C1338.7 1061.6 1339.6 1047.1 1341.3 1037.5 C1342.4 1031.3 1342.9 1024.7 1345.0 1022.5 C1346.1 1021.4 1347.8 1020.7 1348.8 1021.3 C1350.9 1022.5 1351.5 1030.9 1352.5 1037.5 C1353.9 1047.4 1354.2 1062.5 1355.0 1075.0 C1355.8 1087.5 1356.4 1100.6 1357.5 1112.5 C1358.5 1123.4 1359.7 1134.0 1361.3 1143.8 C1362.7 1152.6 1363.5 1164.4 1366.3 1168.8 C1367.7 1171.0 1369.8 1170.7 1371.3 1172.5 C1373.3 1174.9 1373.8 1180.9 1376.3 1182.5 C1378.5 1183.9 1382.8 1184.1 1385.0 1182.5 C1388.1 1180.2 1388.0 1171.4 1390.0 1166.3 C1391.8 1161.5 1393.6 1155.1 1396.3 1152.5 C1398.1 1150.8 1400.2 1149.9 1402.5 1150.0 C1405.5 1150.1 1410.0 1152.2 1412.5 1155.0 C1415.3 1158.2 1415.7 1164.1 1417.5 1168.8 C1419.4 1173.7 1421.1 1179.9 1423.8 1183.8 C1425.9 1187.0 1429.2 1188.7 1431.3 1191.3 C1433.3 1193.8 1433.9 1198.0 1436.3 1199.1 C1438.8 1200.2 1443.9 1199.3 1446.3 1197.6 C1448.7 1195.9 1448.7 1190.0 1450.8 1188.7 C1452.4 1187.7 1455.1 1189.7 1456.7 1188.7 C1458.8 1187.4 1459.3 1180.0 1461.2 1179.8 C1463.2 1179.6 1466.6 1189.0 1468.6 1188.7 C1470.7 1188.4 1471.6 1181.4 1473.1 1176.8 C1475.1 1170.9 1477.4 1163.8 1479.0 1156.0 C1481.0 1146.4 1482.2 1135.9 1483.5 1123.4 C1485.3 1106.6 1486.2 1081.5 1487.9 1064.0 C1489.3 1050.1 1491.0 1026.8 1492.4 1026.8 C1493.7 1026.8 1495.2 1044.6 1496.1 1056.5 C1497.5 1074.3 1497.2 1104.4 1498.3 1123.4 C1499.1 1137.6 1499.3 1149.4 1501.3 1160.5 C1503.0 1169.8 1504.4 1183.0 1508.7 1185.8 C1511.4 1187.6 1516.5 1186.7 1519.1 1184.3 C1523.1 1180.7 1523.4 1167.7 1525.1 1160.5 C1526.5 1154.6 1527.5 1144.2 1528.8 1144.2 C1530.4 1144.2 1531.6 1161.7 1534.0 1167.9 C1535.7 1172.2 1537.8 1175.2 1539.9 1178.3 C1541.8 1181.1 1544.1 1186.1 1545.8 1185.8 C1547.7 1185.5 1548.9 1179.0 1550.3 1173.9 C1552.6 1165.3 1554.5 1150.1 1556.2 1138.2 C1557.9 1126.3 1558.1 1111.1 1560.7 1102.6 C1562.3 1097.4 1564.8 1090.7 1566.6 1090.7 C1568.2 1090.7 1569.8 1095.8 1571.1 1099.6 C1573.1 1105.5 1574.4 1114.6 1575.6 1123.4 C1577.1 1134.4 1577.4 1149.7 1578.5 1160.5 C1579.4 1168.9 1578.2 1179.9 1581.5 1182.8 C1583.6 1184.6 1588.0 1184.0 1590.4 1182.8 C1592.9 1181.6 1594.7 1178.6 1596.3 1175.4 C1598.5 1170.9 1598.4 1158.0 1600.8 1157.5 C1602.7 1157.1 1605.8 1166.6 1608.2 1166.4 C1610.8 1166.2 1613.5 1154.4 1615.7 1154.6 C1618.0 1154.8 1619.3 1165.2 1621.6 1167.9 C1623.0 1169.5 1624.7 1171.4 1626.0 1170.9 C1629.2 1169.6 1630.2 1150.8 1632.0 1138.2 C1634.4 1121.4 1636.0 1099.2 1637.9 1078.8 C1639.9 1057.2 1641.8 1029.8 1643.9 1012.0 C1645.3 1000.1 1646.7 989.6 1648.3 982.3 C1649.3 977.9 1650.4 971.8 1651.3 971.9 C1652.5 972.0 1653.4 982.4 1654.3 989.7 C1655.6 1001.2 1656.1 1020.9 1657.2 1034.3 C1658.1 1045.2 1658.9 1055.2 1660.2 1064.0 C1661.2 1071.1 1662.3 1083.2 1663.9 1083.3 C1665.4 1083.4 1667.7 1072.5 1669.1 1066.9 C1670.5 1061.1 1670.8 1049.2 1672.1 1049.1 C1673.3 1049.0 1675.0 1064.0 1676.6 1064.0 C1678.0 1064.0 1679.6 1052.1 1681.0 1052.1 C1682.6 1052.1 1684.2 1060.6 1685.5 1066.9 C1687.6 1077.2 1688.6 1096.0 1689.9 1108.5 C1691.0 1118.8 1691.2 1136.5 1692.9 1136.7 C1694.3 1136.8 1696.9 1125.6 1698.6 1118.4 C1700.9 1108.5 1702.6 1093.9 1704.3 1082.7 C1705.8 1072.7 1707.1 1063.8 1708.5 1054.2 C1709.9 1044.3 1710.2 1028.7 1712.8 1024.2 C1713.8 1022.4 1715.4 1021.0 1716.4 1021.4 C1718.4 1022.2 1718.8 1033.1 1720.0 1039.9 C1721.4 1048.1 1721.3 1065.8 1724.2 1067.0 C1725.7 1067.6 1727.9 1062.7 1729.9 1062.7 C1732.1 1062.7 1734.6 1066.5 1737.1 1067.7 C1739.4 1068.8 1742.4 1068.3 1744.2 1069.9 C1746.4 1071.9 1747.4 1075.7 1748.5 1079.9 C1750.2 1086.1 1750.3 1094.9 1751.3 1104.1 C1752.6 1116.3 1753.5 1134.9 1755.6 1146.9 C1757.1 1155.8 1759.7 1169.8 1761.3 1169.7 C1763.3 1169.6 1764.4 1144.4 1765.6 1132.6 C1766.7 1121.7 1767.2 1101.3 1768.4 1101.3 C1769.6 1101.3 1771.5 1121.3 1772.7 1132.6 C1774.0 1145.7 1773.4 1164.5 1775.6 1175.4 C1777.0 1182.5 1778.5 1189.9 1781.3 1192.5 C1782.9 1194.0 1785.4 1194.9 1787.0 1194.0 C1789.9 1192.4 1790.6 1175.6 1792.7 1175.4 C1794.4 1175.3 1796.5 1182.9 1798.4 1186.8 C1800.4 1190.9 1802.5 1199.8 1804.1 1199.7 C1805.9 1199.5 1807.0 1188.5 1808.4 1182.6 C1809.9 1176.2 1810.4 1163.1 1812.7 1162.6 C1814.2 1162.2 1816.4 1169.7 1818.4 1169.7 C1820.6 1169.7 1823.4 1161.0 1825.5 1161.2 C1827.7 1161.5 1829.5 1168.0 1831.2 1172.6 C1833.5 1178.8 1833.7 1189.7 1836.9 1195.4 C1839.4 1199.9 1844.2 1205.7 1846.9 1205.4 C1849.2 1205.2 1850.8 1200.0 1852.6 1196.8 C1854.7 1193.0 1855.7 1184.8 1858.3 1184.0 C1860.3 1183.4 1863.1 1188.6 1865.4 1188.3 C1867.9 1188.0 1870.3 1184.2 1872.6 1181.1 C1875.7 1176.8 1878.4 1164.0 1881.1 1164.0 C1883.6 1164.0 1886.3 1178.4 1888.3 1178.3 C1890.0 1178.2 1891.2 1172.5 1892.5 1168.3 C1894.6 1161.8 1895.8 1142.8 1898.2 1142.6 C1900.2 1142.4 1903.2 1159.5 1905.4 1159.7 C1906.9 1159.8 1908.4 1152.4 1909.7 1152.6 C1911.9 1152.9 1913.6 1167.2 1915.4 1175.4 C1917.5 1185.0 1916.5 1201.9 1921.1 1206.8 C1923.9 1209.8 1928.5 1208.8 1932.5 1209.7 C1937.0 1210.7 1943.1 1213.0 1946.7 1212.5 C1949.1 1212.2 1950.8 1211.3 1952.4 1209.7 C1954.5 1207.6 1955.7 1204.0 1957.1 1199.7 C1959.4 1192.7 1961.1 1171.1 1962.8 1171.1 C1964.4 1171.1 1964.6 1192.9 1967.1 1194.0 C1968.3 1194.5 1970.2 1193.3 1971.4 1191.1 C1976.7 1181.6 1973.8 1124.9 1975.0 1094.1 C1976.1 1066.2 1977.0 1014.2 1978.5 1014.2 C1979.5 1014.2 1981.0 1036.9 1982.1 1051.3 C1983.6 1071.2 1984.3 1100.5 1985.7 1122.6 C1986.9 1141.9 1986.5 1164.8 1989.9 1176.8 C1991.7 1183.3 1994.8 1186.2 1997.1 1191.1 C1999.5 1196.2 2002.0 1207.0 2004.2 1206.8 C2006.8 1206.6 2009.0 1182.5 2011.3 1182.5 C2013.7 1182.5 2015.0 1208.4 2018.5 1209.6 C2020.5 1210.3 2022.8 1205.1 2025.6 1203.9 C2028.5 1202.6 2033.0 1204.0 2035.6 1202.5 C2038.1 1201.1 2039.7 1198.9 2041.3 1195.4 C2044.4 1188.5 2044.8 1161.2 2047.0 1161.1 C2048.7 1161.0 2050.6 1182.4 2052.7 1182.5 C2054.8 1182.6 2057.5 1161.0 2059.8 1161.1 C2062.3 1161.2 2064.2 1188.0 2067.0 1188.2 C2069.2 1188.4 2071.7 1172.5 2074.1 1172.6 C2076.9 1172.7 2080.1 1195.4 2082.6 1195.4 C2084.8 1195.4 2086.1 1183.5 2088.4 1178.3 C2090.5 1173.6 2093.4 1170.1 2095.5 1165.4 C2097.8 1160.2 2099.3 1153.7 2101.2 1148.3 C2102.9 1143.3 2104.8 1133.9 2106.2 1134.0 C2107.7 1134.1 2108.6 1144.5 2109.7 1151.2 C2111.3 1160.6 2112.6 1177.8 2114.0 1185.4 C2114.7 1189.2 2116.0 1194.0 2116.0 1194.0" fill="none" stroke="#dc0a10" stroke-width="3.6" stroke-linejoin="round" stroke-linecap="round"/>
<path d="M197.0 1354.9 C197.0 1354.9 197.9 1354.9 198.8 1354.9 C201.4 1354.8 209.0 1354.5 213.8 1354.2 C218.2 1353.9 222.4 1353.4 226.3 1353.0 C229.8 1352.6 233.1 1351.6 236.3 1351.7 C239.3 1351.8 242.3 1353.9 245.0 1353.6 C247.7 1353.3 249.9 1350.2 252.5 1349.9 C255.0 1349.6 257.9 1350.6 260.0 1351.7 C261.8 1352.6 263.0 1355.7 264.4 1355.5 C266.4 1355.2 267.8 1346.6 270.0 1346.1 C271.9 1345.7 273.6 1349.7 276.3 1350.5 C279.9 1351.5 286.4 1350.7 290.0 1349.9 C292.6 1349.4 294.2 1347.4 296.3 1347.4 C298.4 1347.4 300.6 1350.2 302.5 1349.9 C304.3 1349.7 305.9 1345.9 307.5 1346.1 C309.4 1346.3 311.2 1352.4 313.1 1352.4 C315.0 1352.4 316.8 1346.1 318.8 1346.1 C320.9 1346.1 323.2 1352.8 325.6 1353.0 C327.8 1353.2 330.2 1347.8 332.5 1348.0 C335.0 1348.2 337.5 1355.4 340.0 1355.5 C342.3 1355.6 344.7 1349.0 346.9 1349.2 C349.3 1349.4 350.5 1356.4 353.8 1358.0 C357.8 1359.9 365.3 1359.0 370.0 1358.0 C373.8 1357.2 377.3 1355.9 380.0 1353.6 C382.8 1351.3 383.9 1344.9 386.3 1344.2 C388.2 1343.6 390.5 1346.7 392.5 1346.7 C394.2 1346.7 396.0 1344.5 397.5 1344.9 C399.3 1345.4 400.5 1349.1 402.5 1350.5 C404.6 1352.0 407.7 1353.6 410.0 1353.6 C411.8 1353.6 413.3 1351.4 415.0 1351.7 C417.4 1352.1 419.8 1357.3 422.5 1358.0 C424.9 1358.6 427.8 1357.5 430.0 1356.7 C431.9 1356.0 433.5 1353.4 435.0 1353.6 C436.4 1353.8 437.5 1357.6 438.8 1357.4 C440.5 1357.2 441.9 1349.2 443.8 1349.2 C446.0 1349.2 448.7 1360.2 451.3 1360.5 C453.3 1360.8 455.6 1356.8 457.5 1354.9 C459.3 1353.1 460.7 1349.2 462.5 1349.2 C464.8 1349.3 467.3 1358.2 470.0 1358.6 C472.3 1359.0 474.6 1355.0 477.5 1353.6 C480.8 1352.0 485.6 1349.2 488.8 1349.9 C491.8 1350.5 493.2 1355.8 496.3 1356.7 C499.7 1357.8 505.3 1353.9 508.8 1354.9 C511.8 1355.8 513.8 1361.2 516.3 1361.1 C518.8 1361.0 521.3 1354.1 523.8 1354.2 C526.3 1354.3 528.6 1361.2 531.3 1361.7 C533.7 1362.2 536.2 1358.4 538.8 1358.6 C541.6 1358.8 544.7 1363.6 547.5 1363.6 C550.1 1363.6 552.5 1359.1 555.0 1359.2 C557.6 1359.4 559.7 1364.5 562.5 1364.9 C565.5 1365.3 569.6 1360.7 572.5 1361.1 C574.9 1361.4 576.0 1364.6 578.8 1365.5 C583.2 1366.9 590.2 1365.3 597.5 1365.5 C607.8 1365.8 623.8 1366.6 635.0 1367.4 C644.2 1368.1 650.8 1369.3 660.0 1369.9 C671.2 1370.6 685.2 1370.8 697.5 1371.1 C709.5 1371.4 719.5 1371.3 733.0 1371.7 C750.8 1372.2 773.8 1374.0 795.0 1374.4 C817.3 1374.8 842.0 1373.5 863.8 1373.8 C883.5 1374.0 906.0 1374.7 920.0 1375.6 C928.4 1376.1 932.4 1377.2 940.0 1377.5 C950.0 1377.8 964.6 1377.0 975.0 1376.6 C983.5 1376.3 989.7 1375.1 998.0 1375.3 C1007.8 1375.5 1019.0 1377.7 1030.0 1378.5 C1041.8 1379.4 1053.7 1379.7 1066.6 1380.3 C1081.0 1380.9 1099.1 1381.5 1112.4 1382.1 C1122.7 1382.6 1139.8 1383.5 1139.8 1383.5" fill="none" stroke="#000000" stroke-width="3.6" stroke-linejoin="round" stroke-linecap="round"/>
<path d="M1174.4 1397.5 C1174.4 1397.5 1185.3 1398.8 1188.8 1398.3 C1190.9 1398.0 1192.0 1396.5 1193.8 1396.4 C1196.0 1396.3 1198.7 1398.2 1201.0 1398.2 C1203.2 1398.2 1205.3 1396.4 1207.5 1396.4 C1209.9 1396.4 1212.5 1398.8 1215.0 1398.7 C1217.5 1398.6 1219.7 1396.1 1222.5 1396.0 C1226.1 1395.9 1231.6 1399.8 1235.0 1399.5 C1237.4 1399.3 1238.8 1396.8 1241.0 1396.7 C1243.7 1396.6 1247.2 1400.1 1250.0 1399.9 C1252.7 1399.7 1255.1 1396.0 1257.5 1396.0 C1259.7 1396.0 1261.5 1399.0 1263.8 1399.1 C1266.3 1399.2 1269.6 1395.9 1271.9 1396.0 C1273.6 1396.1 1274.9 1398.3 1276.3 1398.2 C1277.6 1398.2 1278.5 1396.1 1280.0 1396.0 C1282.0 1395.8 1285.1 1398.6 1287.5 1398.7 C1289.7 1398.8 1292.0 1398.3 1293.8 1396.9 C1296.0 1395.1 1297.0 1390.8 1298.8 1387.5 C1300.7 1383.9 1302.7 1376.8 1305.0 1376.3 C1306.6 1376.0 1308.4 1378.6 1310.0 1380.0 C1311.7 1381.5 1313.1 1383.5 1315.0 1385.0 C1316.9 1386.5 1319.4 1389.0 1321.3 1388.8 C1323.2 1388.6 1325.0 1386.3 1326.3 1383.8 C1328.6 1379.4 1328.9 1370.6 1330.0 1362.5 C1331.5 1351.8 1332.6 1338.4 1333.8 1325.0 C1335.2 1309.5 1336.0 1289.5 1337.5 1275.0 C1338.6 1263.7 1339.0 1250.6 1341.3 1245.0 C1342.3 1242.4 1343.8 1240.0 1345.0 1240.0 C1346.3 1240.0 1347.8 1242.4 1348.8 1245.0 C1351.0 1250.6 1351.1 1264.4 1351.9 1275.0 C1352.8 1286.8 1353.1 1300.0 1353.8 1312.5 C1354.5 1325.0 1354.7 1340.9 1356.3 1350.0 C1357.3 1355.4 1358.6 1358.2 1360.0 1362.5 C1361.5 1367.3 1362.3 1375.1 1365.0 1377.5 C1366.7 1379.0 1369.4 1377.6 1371.3 1378.8 C1373.7 1380.2 1375.0 1385.1 1377.5 1386.3 C1379.7 1387.3 1383.0 1387.6 1385.0 1386.3 C1387.5 1384.7 1388.3 1378.8 1390.0 1375.0 C1391.7 1371.3 1392.5 1365.8 1395.0 1363.8 C1397.0 1362.3 1400.0 1362.5 1402.5 1362.5 C1405.0 1362.5 1407.7 1362.8 1410.0 1363.8 C1412.3 1364.8 1414.3 1367.3 1416.3 1368.8 C1418.1 1370.1 1419.8 1370.6 1421.3 1372.5 C1423.4 1375.3 1424.5 1380.9 1426.3 1385.0 C1428.2 1389.2 1429.5 1396.3 1432.5 1397.5 C1435.1 1398.5 1439.7 1394.7 1442.5 1393.8 C1444.4 1393.2 1446.1 1393.5 1447.5 1392.5 C1449.2 1391.3 1449.7 1386.8 1451.3 1386.3 C1452.7 1385.9 1454.8 1389.2 1456.3 1388.8 C1458.0 1388.4 1459.0 1382.6 1460.6 1382.5 C1462.6 1382.4 1465.4 1391.4 1467.5 1391.3 C1469.4 1391.2 1470.2 1385.7 1472.5 1383.8 C1475.0 1381.8 1480.0 1379.2 1482.5 1380.0 C1484.8 1380.7 1485.5 1387.2 1487.5 1387.5 C1489.3 1387.8 1491.9 1384.2 1493.8 1382.5 C1495.6 1380.9 1497.5 1380.1 1498.8 1377.5 C1501.2 1372.7 1500.3 1358.6 1502.5 1353.8 C1503.7 1351.3 1505.5 1348.7 1506.9 1348.8 C1508.4 1348.9 1510.0 1352.3 1511.3 1355.0 C1513.3 1359.2 1514.7 1367.5 1516.3 1372.5 C1517.6 1376.3 1517.8 1381.5 1520.0 1382.5 C1522.1 1383.4 1526.3 1378.1 1528.8 1378.8 C1531.4 1379.5 1533.2 1387.7 1535.0 1387.5 C1537.0 1387.3 1538.5 1379.6 1540.0 1375.0 C1541.8 1369.4 1543.0 1362.5 1545.0 1356.3 C1547.0 1350.0 1549.6 1337.8 1551.9 1337.5 C1553.4 1337.3 1555.1 1340.9 1556.3 1343.8 C1558.3 1348.6 1558.4 1358.6 1560.0 1365.0 C1561.4 1370.5 1562.6 1379.3 1565.0 1380.0 C1566.7 1380.5 1569.7 1378.0 1571.3 1375.0 C1574.7 1368.6 1572.6 1349.0 1573.8 1337.5 C1574.8 1327.6 1575.8 1316.8 1577.5 1310.0 C1578.6 1305.8 1580.0 1300.0 1581.3 1300.0 C1582.5 1300.0 1584.0 1305.4 1585.0 1308.8 C1586.3 1313.3 1586.6 1318.7 1587.5 1325.0 C1588.7 1333.7 1589.7 1348.0 1591.3 1356.3 C1592.4 1361.8 1593.1 1369.3 1595.0 1370.0 C1596.1 1370.4 1597.6 1368.9 1598.8 1367.5 C1600.8 1365.1 1601.9 1355.2 1603.8 1355.0 C1605.6 1354.8 1607.7 1364.6 1610.0 1365.0 C1611.9 1365.3 1614.6 1359.6 1616.3 1360.0 C1618.0 1360.4 1618.8 1364.6 1620.0 1367.5 C1621.6 1371.4 1622.7 1380.4 1625.0 1381.3 C1626.4 1381.9 1628.6 1380.7 1630.0 1378.8 C1633.2 1374.6 1633.6 1360.3 1635.0 1350.0 C1636.6 1338.4 1637.1 1321.9 1638.8 1312.5 C1639.9 1306.8 1639.9 1301.1 1642.5 1298.8 C1644.6 1297.0 1649.2 1296.3 1651.3 1297.5 C1653.5 1298.7 1653.9 1302.5 1655.0 1306.3 C1656.7 1312.4 1657.2 1324.7 1658.8 1331.3 C1659.9 1335.8 1661.4 1342.6 1662.5 1342.5 C1664.5 1342.3 1664.7 1313.1 1667.5 1307.5 C1668.6 1305.3 1670.1 1303.5 1671.3 1303.8 C1673.2 1304.2 1674.7 1316.3 1676.3 1316.3 C1678.0 1316.3 1679.8 1302.4 1681.3 1302.5 C1683.2 1302.6 1683.5 1319.4 1686.3 1323.8 C1688.0 1326.5 1690.6 1326.9 1692.5 1328.8 C1694.4 1330.7 1695.7 1334.8 1697.5 1335.0 C1699.1 1335.2 1701.1 1333.3 1702.5 1331.3 C1704.8 1328.0 1706.1 1321.1 1707.5 1315.0 C1709.2 1307.4 1709.8 1296.3 1711.3 1288.8 C1712.4 1283.1 1712.7 1275.6 1715.0 1273.8 C1716.3 1272.8 1718.7 1272.8 1720.0 1273.8 C1722.4 1275.7 1722.6 1284.5 1723.8 1290.0 C1725.1 1295.7 1725.4 1303.6 1727.5 1307.5 C1728.8 1309.9 1730.7 1310.7 1732.5 1312.5 C1734.5 1314.5 1736.1 1317.7 1738.8 1318.8 C1742.1 1320.1 1748.6 1317.1 1751.3 1318.8 C1753.5 1320.2 1753.9 1323.0 1755.0 1326.3 C1757.0 1332.1 1758.4 1343.6 1760.0 1351.3 C1761.3 1358.0 1762.4 1364.4 1763.8 1370.0 C1764.9 1374.6 1765.9 1378.0 1767.5 1382.5 C1769.4 1387.9 1771.4 1396.5 1775.0 1400.0 C1777.7 1402.6 1781.9 1404.3 1785.0 1403.8 C1788.2 1403.2 1790.8 1396.9 1793.8 1396.3 C1796.3 1395.8 1799.3 1399.7 1801.3 1398.8 C1804.0 1397.5 1803.4 1386.3 1806.3 1385.0 C1808.8 1383.9 1813.4 1389.6 1816.3 1388.8 C1819.5 1387.9 1822.2 1378.6 1824.4 1378.8 C1826.2 1378.9 1827.4 1383.3 1828.8 1386.3 C1830.6 1390.4 1831.3 1398.2 1833.8 1401.3 C1835.5 1403.4 1838.0 1403.6 1840.0 1405.0 C1842.1 1406.5 1844.2 1410.1 1846.3 1410.0 C1848.8 1409.9 1851.1 1404.6 1853.8 1402.5 C1856.5 1400.5 1860.1 1400.1 1862.5 1397.5 C1865.4 1394.3 1866.3 1384.7 1868.8 1383.8 C1870.3 1383.3 1872.3 1385.0 1873.8 1386.3 C1875.7 1388.0 1877.1 1393.9 1878.8 1393.8 C1880.9 1393.7 1882.2 1383.1 1885.0 1381.3 C1887.1 1380.0 1890.4 1382.0 1892.5 1381.3 C1894.5 1380.6 1896.0 1377.2 1897.5 1377.5 C1899.4 1377.9 1901.1 1382.7 1902.5 1386.3 C1904.4 1391.3 1904.6 1399.5 1906.3 1405.0 C1907.7 1409.7 1908.5 1415.3 1911.3 1417.5 C1913.8 1419.4 1918.1 1419.2 1921.3 1418.8 C1924.4 1418.4 1927.2 1414.9 1930.0 1415.0 C1932.6 1415.1 1934.7 1418.3 1937.5 1418.8 C1940.5 1419.3 1944.9 1418.9 1947.5 1417.5 C1949.8 1416.2 1950.8 1413.3 1952.5 1411.3 C1954.1 1409.4 1956.1 1408.7 1957.5 1405.9 C1960.3 1400.3 1961.2 1377.4 1963.1 1377.2 C1964.1 1377.1 1965.2 1381.6 1966.2 1384.6 C1967.6 1389.0 1968.8 1401.5 1970.0 1401.5 C1971.2 1401.5 1972.6 1392.4 1973.5 1385.0 C1975.2 1370.5 1974.8 1341.0 1975.5 1320.0 C1976.1 1300.1 1976.4 1274.7 1977.3 1262.0 C1977.7 1255.7 1978.3 1248.0 1978.8 1248.0 C1979.3 1248.0 1980.0 1256.2 1980.5 1262.0 C1981.3 1271.6 1981.6 1285.9 1982.0 1300.0 C1982.5 1317.7 1982.3 1344.5 1983.2 1360.0 C1983.8 1369.8 1984.2 1378.7 1985.5 1384.0 C1986.2 1386.7 1987.0 1388.0 1988.0 1390.0 C1989.2 1392.3 1990.9 1397.1 1992.4 1397.1 C1994.0 1397.1 1995.9 1388.2 1997.4 1388.4 C1999.5 1388.7 1999.1 1405.0 2002.4 1409.6 C2004.8 1413.0 2010.0 1416.8 2012.4 1415.8 C2015.5 1414.6 2015.9 1403.1 2017.4 1397.1 C2018.8 1391.5 2019.8 1380.9 2021.1 1380.9 C2022.6 1380.9 2024.7 1402.2 2026.1 1402.1 C2027.6 1402.0 2028.3 1383.7 2029.8 1375.9 C2031.1 1369.5 2032.8 1358.5 2034.2 1358.5 C2035.7 1358.5 2037.3 1371.1 2038.6 1378.4 C2040.1 1387.1 2039.6 1401.7 2042.3 1407.1 C2043.6 1409.8 2045.8 1412.4 2047.3 1412.1 C2049.8 1411.5 2051.2 1399.7 2053.5 1394.6 C2055.4 1390.4 2058.0 1383.2 2059.8 1383.4 C2061.9 1383.6 2062.7 1400.7 2064.8 1400.9 C2066.9 1401.1 2070.0 1384.5 2072.2 1384.6 C2074.6 1384.7 2075.1 1402.5 2078.5 1404.6 C2080.5 1405.9 2083.7 1402.8 2086.0 1403.4 C2088.3 1404.0 2090.3 1408.8 2092.2 1408.4 C2095.1 1407.7 2097.3 1392.1 2099.7 1392.1 C2101.8 1392.1 2103.1 1401.6 2105.9 1404.6 C2108.3 1407.1 2114.7 1409.6 2114.7 1409.6" fill="none" stroke="#000000" stroke-width="3.6" stroke-linejoin="round" stroke-linecap="round"/>
<line x1="1310.0" y1="348.0" x2="1310.0" y2="1429.0" stroke="#000" stroke-width="3.8" stroke-dasharray="24 25" stroke-dashoffset="21.0"/>
<line x1="1348.4" y1="226.0" x2="1348.4" y2="1371.5" stroke="#000" stroke-width="3.8" stroke-dasharray="24 25" stroke-dashoffset="5.5"/>
<line x1="1576.2" y1="286.7" x2="1576.2" y2="1433.0" stroke="#000" stroke-width="3.8" stroke-dasharray="24 25" stroke-dashoffset="5.0"/>
<line x1="1716.7" y1="251.0" x2="1716.7" y2="1397.5" stroke="#000" stroke-width="3.8" stroke-dasharray="24 25" stroke-dashoffset="5.0"/>
<line x1="1980.3" y1="284.6" x2="1980.3" y2="1430.0" stroke="#000" stroke-width="3.8" stroke-dasharray="24 25" stroke-dashoffset="5.0"/>
<line x1="195.0" y1="52.0" x2="1138.5" y2="52.0" stroke="#000" stroke-width="4.2"/>
<line x1="1176.0" y1="52.0" x2="2119.0" y2="52.0" stroke="#000" stroke-width="4.2"/>
<line x1="195.0" y1="1466.0" x2="1138.5" y2="1466.0" stroke="#000" stroke-width="4.2"/>
<line x1="1176.0" y1="1466.0" x2="2119.0" y2="1466.0" stroke="#000" stroke-width="4.2"/>
<line x1="197.0" y1="50.0" x2="197.0" y2="1495.0" stroke="#000" stroke-width="4.2"/>
<line x1="2117.0" y1="50.0" x2="2117.0" y2="1495.0" stroke="#000" stroke-width="4.2"/>
<line x1="1124.0" y1="81.0" x2="1158.0" y2="24.0" stroke="#000" stroke-width="3.8"/>
<line x1="1157.0" y1="81.0" x2="1191.0" y2="24.0" stroke="#000" stroke-width="3.8"/>
<line x1="1124.0" y1="1495.0" x2="1158.0" y2="1438.0" stroke="#000" stroke-width="3.8"/>
<line x1="1157.0" y1="1495.0" x2="1191.0" y2="1438.0" stroke="#000" stroke-width="3.8"/>
<line x1="574.2" y1="1466.0" x2="574.2" y2="1495.0" stroke="#000" stroke-width="4.2"/>
<line x1="951.5" y1="1466.0" x2="951.5" y2="1495.0" stroke="#000" stroke-width="4.2"/>
<line x1="385.6" y1="1466.0" x2="385.6" y2="1481.0" stroke="#000" stroke-width="4.2"/>
<line x1="762.9" y1="1466.0" x2="762.9" y2="1481.0" stroke="#000" stroke-width="4.2"/>
<line x1="1173.6" y1="1466.0" x2="1173.6" y2="1495.0" stroke="#000" stroke-width="4.2"/>
<line x1="1488.1" y1="1466.0" x2="1488.1" y2="1495.0" stroke="#000" stroke-width="4.2"/>
<line x1="1802.6" y1="1466.0" x2="1802.6" y2="1495.0" stroke="#000" stroke-width="4.2"/>
<line x1="1330.8" y1="1466.0" x2="1330.8" y2="1481.0" stroke="#000" stroke-width="4.2"/>
<line x1="1645.3" y1="1466.0" x2="1645.3" y2="1481.0" stroke="#000" stroke-width="4.2"/>
<line x1="1959.8" y1="1466.0" x2="1959.8" y2="1481.0" stroke="#000" stroke-width="4.2"/>
<text transform="translate(197.0 1568.8) scale(1.000 1.040)" font-size="71.0" text-anchor="middle">4000</text>
<text transform="translate(574.2 1568.8) scale(1.000 1.040)" font-size="71.0" text-anchor="middle">3500</text>
<text transform="translate(951.5 1568.8) scale(1.000 1.040)" font-size="71.0" text-anchor="middle">3000</text>
<text transform="translate(1173.6 1568.8) scale(1.000 1.040)" font-size="71.0" text-anchor="middle">2000</text>
<text id="t1500" transform="translate(1488.1 1568.8) scale(1.000 1.040)" font-size="71.0" text-anchor="middle">1500</text>
<text id="t1000" transform="translate(1802.6 1568.8) scale(1.000 1.040)" font-size="71.0" text-anchor="middle">1000</text>
<text transform="translate(2117.1 1568.8) scale(1.000 1.040)" font-size="71.0" text-anchor="middle">500</text>
<text transform="translate(89.1 812.3) rotate(-90) scale(1.056 1.000)" font-size="75.4" text-anchor="middle">Abs</text>
<text transform="translate(708.0 1677.3) scale(1.000 1.040)" font-size="90.8" text-anchor="start">Wavenumbers</text>
<text transform="translate(1357.1 1677.3) scale(0.870 1.040)" font-size="91.0" text-anchor="start" font-weight="normal">(</text>
<text transform="translate(1386.2 1677.3) scale(1.000 1.040)" font-size="90.8" text-anchor="start">cm</text>
<text transform="translate(1533.4 1645.2) scale(1.580 1.040)" font-size="59.0" text-anchor="start">-</text>
<text id="sup1" transform="translate(1563.2 1643.9) scale(1.000 1.040)" font-size="59.0" text-anchor="start">1</text>
<text transform="translate(1608.1 1677.3) scale(0.870 1.040)" font-size="91.0" text-anchor="start" font-weight="normal">)</text>
<text transform="translate(228.0 355.0) scale(1.000 1.040)" font-size="72.0" text-anchor="start">FPI-5</text>
<text transform="translate(225.0 602.0) scale(1.000 1.040)" font-size="72.0" text-anchor="start">FPI-4</text>
<text transform="translate(229.0 852.0) scale(1.000 1.040)" font-size="72.0" text-anchor="start">FPI-3</text>
<text transform="translate(224.0 1124.0) scale(1.000 1.040)" font-size="72.0" text-anchor="start">FPI-2</text>
<text id="l1" transform="translate(224.0 1320.0) scale(1.000 1.040)" font-size="72.0" text-anchor="start">FPI-1</text>
<text transform="translate(869.0 287.6) scale(1.000 1.030)" font-size="67.0" text-anchor="start">2947</text>
<text id="p1790" transform="translate(1074.0 275.2) scale(0.975 1.030)" font-size="67.0" text-anchor="start">1790</text>
<text id="p1724" transform="translate(1183.0 126.5) scale(0.975 1.030)" font-size="67.0" text-anchor="start">1724</text>
<text id="p1350" transform="translate(1440.0 178.5) scale(0.975 1.030)" font-size="67.0" text-anchor="start">1350</text>
<text id="p1142" transform="translate(1601.3 134.0) scale(0.972 1.030)" font-size="67.0" text-anchor="start">1142</text>
<text id="p721" transform="translate(1837.0 191.5) scale(1.000 1.030)" font-size="67.0" text-anchor="start">721</text>
<line x1="951.6" y1="306.3" x2="967.3" y2="342.6" stroke="#000" stroke-width="3.4"/>
<polygon points="985.2,383.5 955.4,344.3 976.8,335.4" fill="#000"/>
<line x1="1229.6" y1="289.2" x2="1270.2" y2="321.4" stroke="#000" stroke-width="3.4"/>
<polygon points="1296.1,342.0 1273.7,312.4 1262.0,326.6" fill="#000"/>
<line x1="1276.1" y1="149.1" x2="1311.6" y2="190.5" stroke="#000" stroke-width="3.4"/>
<polygon points="1332.2,215.8 1316.5,182.9 1302.9,193.5" fill="#000"/>
<line x1="1518.3" y1="200.7" x2="1541.3" y2="246.9" stroke="#000" stroke-width="3.4"/>
<polygon points="1554.7,276.3 1531.0,248.7 1549.0,239.7" fill="#000"/>
<line x1="1680.7" y1="155.6" x2="1697.5" y2="203.6" stroke="#000" stroke-width="3.4"/>
<polygon points="1708.9,236.3 1686.9,204.2 1706.1,197.4" fill="#000"/>
<line x1="1905.7" y1="209.0" x2="1941.6" y2="244.2" stroke="#000" stroke-width="3.4"/>
<polygon points="1964.4,267.5 1945.9,235.2 1933.0,249.0" fill="#000"/>
<rect x="1412.60" y="1560.66" width="13.10" height="9.14" fill="#fff"/>
<rect x="1435.45" y="1560.66" width="12.20" height="9.14" fill="#fff"/>
<rect x="1727.10" y="1560.66" width="13.10" height="9.14" fill="#fff"/>
<rect x="1749.95" y="1560.66" width="12.20" height="9.14" fill="#fff"/>
<rect x="1565.92" y="1637.04" width="11.05" height="7.86" fill="#fff"/>
<rect x="1585.07" y="1637.04" width="10.31" height="7.86" fill="#fff"/>
<rect x="363.48" y="1311.76" width="13.27" height="9.24" fill="#fff"/>
<rect x="386.63" y="1311.76" width="12.36" height="9.24" fill="#fff"/>
<rect x="1077.11" y="267.56" width="12.13" height="8.64" fill="#fff"/>
<rect x="1098.21" y="267.56" width="11.30" height="8.64" fill="#fff"/>
<rect x="1186.11" y="118.86" width="12.13" height="8.64" fill="#fff"/>
<rect x="1207.21" y="118.86" width="11.30" height="8.64" fill="#fff"/>
<rect x="1443.11" y="170.86" width="12.13" height="8.64" fill="#fff"/>
<rect x="1464.21" y="170.86" width="11.30" height="8.64" fill="#fff"/>
<rect x="1604.40" y="126.36" width="12.10" height="8.64" fill="#fff"/>
<rect x="1625.44" y="126.36" width="11.27" height="8.64" fill="#fff"/>
<rect x="1640.60" y="126.36" width="12.10" height="8.64" fill="#fff"/>
<rect x="1661.64" y="126.36" width="11.27" height="8.64" fill="#fff"/>
<rect x="1914.72" y="183.86" width="12.42" height="8.64" fill="#fff"/>
<rect x="1936.33" y="183.86" width="11.57" height="8.64" fill="#fff"/>
</svg></body></html>
